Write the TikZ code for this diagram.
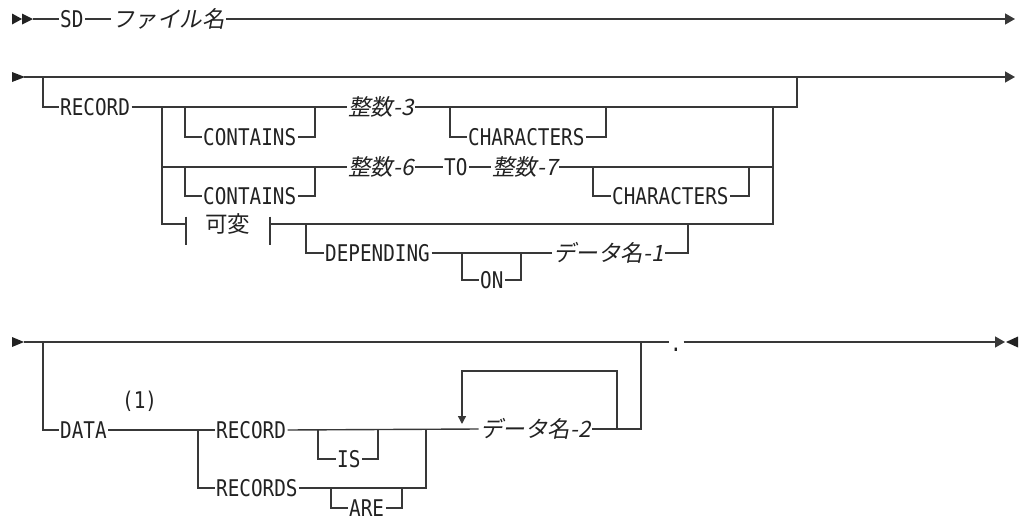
\documentclass[tikz,border=0pt]{standalone}
\usepackage{fontspec}
\setmainfont{DejaVu Sans Mono}[FakeStretch=0.84]
\newfontfamily\jp{Noto Sans CJK JP}
\newfontfamily\jpit{Noto Sans CJK JP}[FakeSlant=0.2]
\usepackage{tikz}
\usetikzlibrary{arrows.meta,positioning,calc}
\definecolor{RailInk}{HTML}{222222}
\definecolor{RailLine}{HTML}{383838}

\begin{document}
\begin{tikzpicture}[
    x=1pt, y=-1pt,
    kw/.style={inner xsep=1.5pt, inner ysep=0pt, text height=16.5pt, text depth=0pt,
               anchor=west, text=RailInk, font=\fontsize{23}{26}\selectfont},
    var/.style={kw, font=\jpit\fontsize{22.5}{26}\selectfont},
    frag/.style={kw, font=\jp\fontsize{22.5}{26}\selectfont},
    rail/.style={draw=RailLine, line width=1.4pt},
    tip/.style={rail, -{Triangle[length=10pt, width=11pt]}},
    loopback/.style={rail, -{Triangle[length=8pt, width=8pt]}},
    tri/.style={fill=RailInk}
]
\useasboundingbox (0,0) rectangle (1021,522);

% row 1
\coordinate (r1s) at (33,19);
\coordinate (r1e) at (1015,19);
\fill[tri] (12,13.5) -- (22,19) -- (12,24.5) -- cycle;
\fill[tri] (22,13.5) -- (33,19) -- (22,24.5) -- cycle;
\node[kw] (sd) at (58.5,19) {SD};
\node[var] (fname) at (110.5,19) {ファイル名};
\draw[rail] (r1s) -- (sd.west);
\draw[rail] (sd.east) -- (fname.west);
\draw[tip] (fname.east) -- (r1e);

% row 2: RECORD clause
\coordinate (r2s) at (24,77);
\coordinate (r2e) at (1015,77);
\coordinate (grp-in) at (43,77);
\coordinate (grp-out) at (797,77);
\coordinate (grp-end) at (797,107);
\coordinate (alt-in) at (162,107);
\coordinate (alt-out) at (773,107);
\coordinate (c1-in) at (185,107);
\coordinate (c1-out) at (315,107);
\coordinate (ch1-in) at (450,107);
\coordinate (ch1-out) at (606,107);
\coordinate (c2-in) at (185,167);
\coordinate (c2-out) at (315,167);
\coordinate (ch2-in) at (593,167);
\coordinate (ch2-out) at (749,167);
\coordinate (alt2-out) at (773,167);
\coordinate (vbar1) at (186,224);
\coordinate (vbar2) at (270,224);
\coordinate (dep-in) at (306,224);
\coordinate (dep-out) at (688,224);
\coordinate (on-in) at (462,253);
\coordinate (on-out) at (521,253);

\fill[tri] (12,72) -- (25,77) -- (12,82) -- cycle;
\draw[tip] (r2s) -- (r2e);

\node[kw] (record) at (58.5,107) {RECORD};
\node[kw] (cont1) at (201.5,137) {CONTAINS};
\node[var] (int3) at (346.5,107) {整数-3};
\node[kw] (chars1) at (466.5,137) {CHARACTERS};
\node[kw] (cont2) at (201.5,196) {CONTAINS};
\node[var] (int6) at (346.5,167) {整数-6};
\node[kw] (to) at (442.5,167) {TO};
\node[var] (int7) at (490.5,167) {整数-7};
\node[kw] (chars2) at (610.5,196) {CHARACTERS};
\node[frag] (vary) at (203.5,224) {可変};
\node[kw] (depend) at (323.5,253) {DEPENDING};
\node[kw] (on) at (478.5,280) {ON};
\node[var] (dname1) at (551.5,253) {データ名-1};

\draw[rail] (grp-in) |- (record.west);
\draw[rail] (record.east) -- (int3.west);
\draw[rail] (int3.east) -- (grp-end) -- (grp-out);
\draw[rail] (c1-in) |- (cont1.west);
\draw[rail] (cont1.east) -| (c1-out);
\draw[rail] (ch1-in) |- (chars1.west);
\draw[rail] (chars1.east) -| (ch1-out);

\draw[rail] (alt-in) |- (int6.west);
\draw[rail] (c2-in) |- (cont2.west);
\draw[rail] (cont2.east) -| (c2-out);
\draw[rail] (int6.east) -- (to.west);
\draw[rail] (to.east) -- (int7.west);
\draw[rail] (int7.east) -- (alt2-out);
\draw[rail] (ch2-in) |- (chars2.west);
\draw[rail] (chars2.east) -| (ch2-out);

\draw[rail] (alt-in) |- (vbar1);
\draw[rail] (vbar1) ++(0,-7.5) -- ++(0,28.5);
\draw[rail] (vbar2) ++(0,-7.5) -- ++(0,28.5);
\draw[rail] (vbar2) -| (alt-out);
\draw[rail] (dep-in) |- (depend.west);
\draw[rail] (depend.east) -- (dname1.west);
\draw[rail] (dname1.east) -| (dep-out);
\draw[rail] (on-in) |- (on.west);
\draw[rail] (on.east) -| (on-out);

% row 3: DATA clause
\coordinate (r3s) at (24,342);
\coordinate (r3e) at (1005,342);
\coordinate (data-in) at (43,342);
\coordinate (data-top) at (641,342);
\coordinate (rs-in) at (198,430);
\coordinate (rs-out) at (426,430);
\coordinate (is-in) at (318,430);
\coordinate (is-out) at (378,430);
\coordinate (are-in) at (331,488);
\coordinate (are-out) at (402,488);
\coordinate (lp-out) at (617,429);
\coordinate (lp-turn) at (462,371);
\coordinate (lp-tip) at (462,424);

\fill[tri] (12,337) -- (24,342) -- (12,347) -- cycle;
\fill[tri] (1018,336.5) -- (1006,342) -- (1018,347.5) -- cycle;

\node[kw] (period) at (668.5,343) {.};
\node[kw] (data) at (58.5,430) {DATA};
\node[kw] (note) at (120.5,400) {(1)};
\node[kw] (rec2) at (214.5,430) {RECORD};
\node[kw] (is) at (335.5,459) {IS};
\node[kw] (recs) at (214.5,488) {RECORDS};
\node[kw] (are) at (347.5,508) {ARE};
\node[var] (dname2) at (478.5,429) {データ名-2};

\draw[rail] (r3s) -- (period.west|-r3s);
\draw[tip] (period.east|-r3s) -- (r3e);
\draw[rail] (data-in) |- (data.west);
\draw[rail] (data.east) -- (rec2.west);
\draw[rail] (rec2.east) -- (dname2.west);
\draw[rail] (is-in) |- (is.west);
\draw[rail] (is.east) -| (is-out);
\draw[rail] (rs-in) |- (recs.west);
\draw[rail] (recs.east) -| (rs-out);
\draw[rail] (are-in) |- (are.west);
\draw[rail] (are.east) -| (are-out);
\draw[rail] (dname2.east) -| (data-top);
\draw[loopback] (lp-out) |- (lp-turn) -- (lp-tip);
\end{tikzpicture}
\end{document}
